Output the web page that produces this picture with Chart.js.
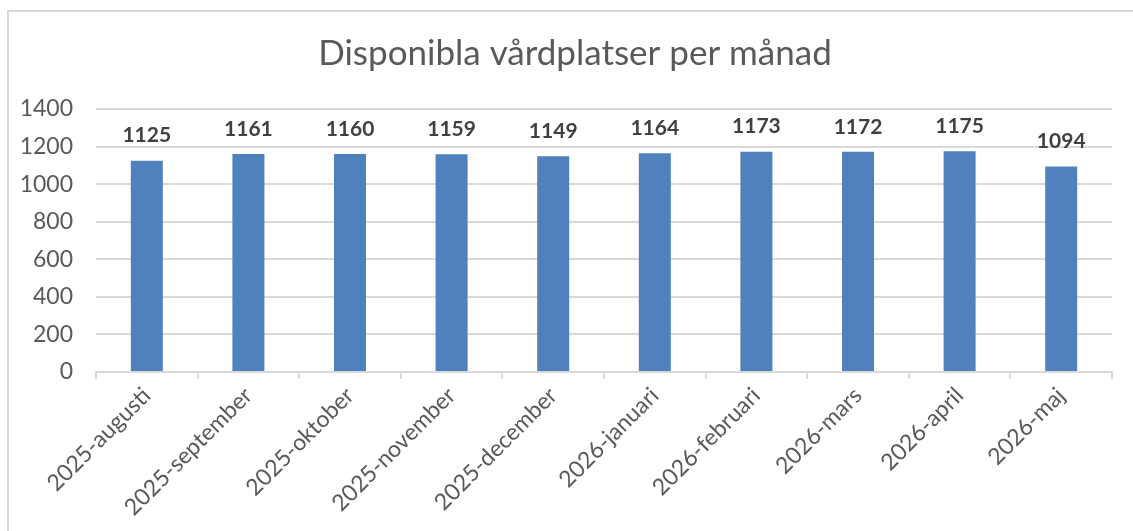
<!DOCTYPE html>
<html>
<head>
<meta charset="utf-8">
<script src="https://cdn.jsdelivr.net/npm/chart.js@4.4.1/dist/chart.umd.min.js"></script>
<style>
  html, body { margin: 0; padding: 0; background: #fff; overflow: hidden; }
  #ram { position: absolute; left: 7px; top: 10px; width: 1300px; height: 700px;
         border-left: 2px solid #d9d9d9; border-top: 2px solid #d9d9d9; }
  #myChart { position: absolute; left: 0; top: 0; }
</style>
</head>
<body>
<div id="ram"></div>
<canvas id="myChart" width="1133" height="531"></canvas>
<script>
const manader = ['2025-augusti', '2025-september', '2025-oktober', '2025-november', '2025-december',
                 '2026-januari', '2026-februari', '2026-mars', '2026-april', '2026-maj'];
const platser = [1125, 1161, 1160, 1159, 1149, 1164, 1173, 1172, 1175, 1094];
const yTicks = [0, 200, 400, 600, 800, 1000, 1200, 1400];
const rubrik = 'Disponibla vårdplatser per månad';

const fontFam = "Lato, 'Open Sans', sans-serif";

// ramen i originalet är bredare än bilden, rubriken centreras på ramen
const ramVanster = 7, ramHoger = 1143;

const rubrikPlugin = {
  id: 'rubrik',
  afterDraw: (chart) => {
    const { ctx } = chart;
    ctx.save();
    ctx.fillStyle = '#595959';
    ctx.font = '35px ' + fontFam;
    ctx.textAlign = 'center';
    ctx.textBaseline = 'middle';
    ctx.fillText(rubrik, (ramVanster + ramHoger) / 2, 54);
    ctx.restore();
  }
};

// etiketter ovanför staplarna
const stapelEtiketter = {
  id: 'stapel-etiketter',
  afterDatasetsDraw: (chart) => {
    const { ctx } = chart;
    const meta = chart.getDatasetMeta(0);
    ctx.save();
    ctx.fillStyle = '#404040';
    ctx.font = 'bold 21px ' + fontFam;
    ctx.textAlign = 'center';
    ctx.textBaseline = 'middle';
    meta.data.forEach((bar, i) => {
      ctx.fillText(platser[i], bar.x, bar.y - 25);
    });
    ctx.restore();
  }
};

let myChart = new Chart(document.getElementById('myChart'), {
  type: 'bar',
  data: {
    labels: manader,
    datasets: [{
      label: 'Vårdplatser',
      data: platser,
      backgroundColor: '#4F81BD',
      barPercentage: 0.315,
      categoryPercentage: 1
    }]
  },
  options: {
    responsive: false,
    animation: false,
    layout: { padding: { left: 0, right: 21, top: 109, bottom: 0 } },
    plugins: {
      legend: { display: false },
      tooltip: { enabled: false },
      title: { display: false }
    },
    scales: {
      x: {
        grid: { drawOnChartArea: false, drawTicks: true, tickLength: 7, color: '#d9d9d9', lineWidth: 2, offset: true },
        border: { color: '#d9d9d9', width: 2 },
        ticks: {
          color: '#595959',
          font: { size: 23, family: fontFam },
          minRotation: 45, maxRotation: 45,
          padding: 3
        },
        afterFit: (scale) => { scale.height = 159; }
      },
      y: {
        min: 0, max: 1400,
        afterBuildTicks: (scale) => { scale.ticks = yTicks.map(v => ({ value: v })); },
        grid: { color: '#d9d9d9', lineWidth: 2, drawTicks: false },
        border: { display: false },
        ticks: {
          color: '#595959',
          font: { size: 23, family: fontFam },
          padding: 23,
          callback: (v) => String(v)
        },
        afterFit: (scale) => { scale.width = 96; }
      }
    }
  },
  plugins: [stapelEtiketter, rubrikPlugin]
});
</script>
</body>
</html>
